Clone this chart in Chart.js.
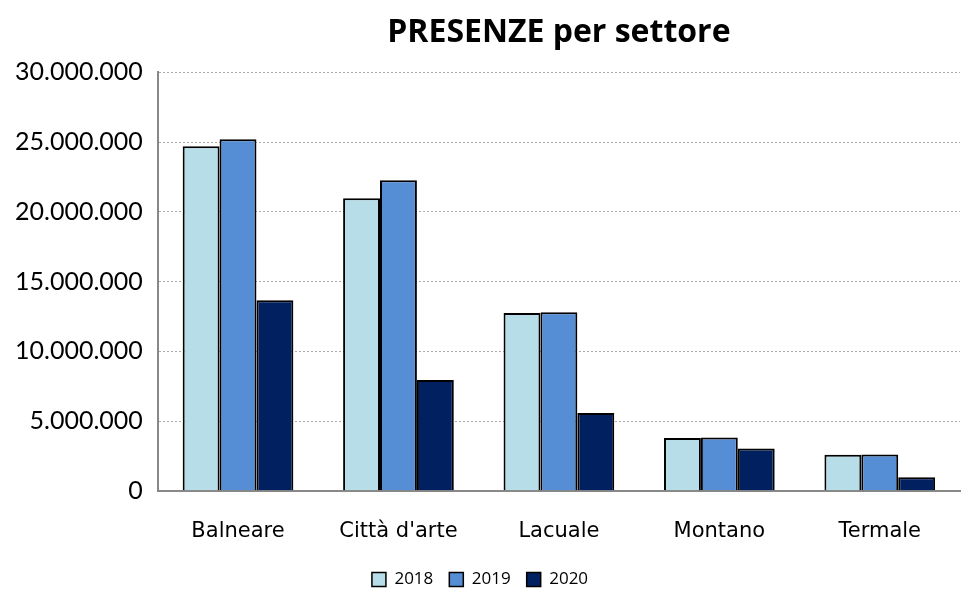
<!DOCTYPE html>
<html>
<head>
<meta charset="utf-8">
<script src="https://cdn.jsdelivr.net/npm/chart.js@4"></script>
<style>
  html, body { margin: 0; padding: 0; background: #fff; }
  #wrap { width: 963px; height: 589px; }
</style>
</head>
<body>
<div id="wrap"><canvas id="grafico-presenze" width="963" height="589"></canvas></div>
<script>
const settori = ["Balneare", "Città d'arte", "Lacuale", "Montano", "Termale"];
const presenze2018 = [24700000, 20970000, 12740000, 3790000, 2580000];
const presenze2019 = [25200000, 22260000, 12810000, 3830000, 2610000];
const presenze2020 = [13670000, 7950000, 5580000, 3040000, 970000];

function formatta(v) {
  return String(v).replace(/\B(?=(\d{3})+(?!\d))/g, ".");
}

const ctxPresenze = document.getElementById("grafico-presenze").getContext("2d");
const chartPresenze = {
  labels: settori,
  datasets: [
    { label: "2018", data: presenze2018, backgroundColor: "#B7DDE8" },
    { label: "2019", data: presenze2019, backgroundColor: "#558ED5" },
    { label: "2020", data: presenze2020, backgroundColor: "#002060" },
  ].map(d => Object.assign(d, {
    borderColor: "#000",
    borderWidth: 2,
    borderSkipped: "bottom",
    categoryPercentage: 0.69,
    barPercentage: 1,
  })),
};
const presenzeConfig = {
  type: "bar",
  data: chartPresenze,
  options: {
    responsive: false,
    animation: false,
    layout: { padding: { left: 0, right: 3, top: 10, bottom: -9 } },
    scales: {
      x: {
        grid: { display: false },
        border: { display: true, color: "#888", width: 2 },
        ticks: { color: "#000", padding: 20, font: { family: "DejaVu Sans", size: 21 } },
        afterFit: s => { s.height -= 9; },
      },
      y: {
        min: 0,
        max: 30000000,
        grid: { color: "#aaa", lineWidth: 1, drawTicks: false },
        border: { display: true, color: "#888", width: 2, dash: [2, 2] },
        ticks: {
          stepSize: 5000000,
          color: "#000",
          padding: 15,
          font: { family: "Lato", size: 25 },
          callback: v => formatta(v),
        },
      },
    },
    plugins: {
      title: {
        display: true,
        fullSize: false,
        text: "PRESENZE per settore",
        color: "#000",
        font: { family: "Open Sans", size: 32, weight: "bold" },
        padding: { top: 4, bottom: 20 },
      },
      legend: {
        display: true,
        position: "bottom",
        labels: {
          color: "#000",
          boxWidth: 14,
          boxHeight: 14,
          padding: 16,
          font: { family: "Open Sans", size: 17 },
          generateLabels: chart => chart.data.datasets.map((d, i) => ({
            text: d.label,
            fillStyle: d.backgroundColor,
            strokeStyle: "#000",
            lineWidth: 1.5,
            datasetIndex: i,
            fontColor: "#000",
          })),
        },
      },
      tooltip: { enabled: false },
    },
  },
};
const graficoPresenze = new Chart(ctxPresenze, presenzeConfig);
</script>
</body>
</html>
